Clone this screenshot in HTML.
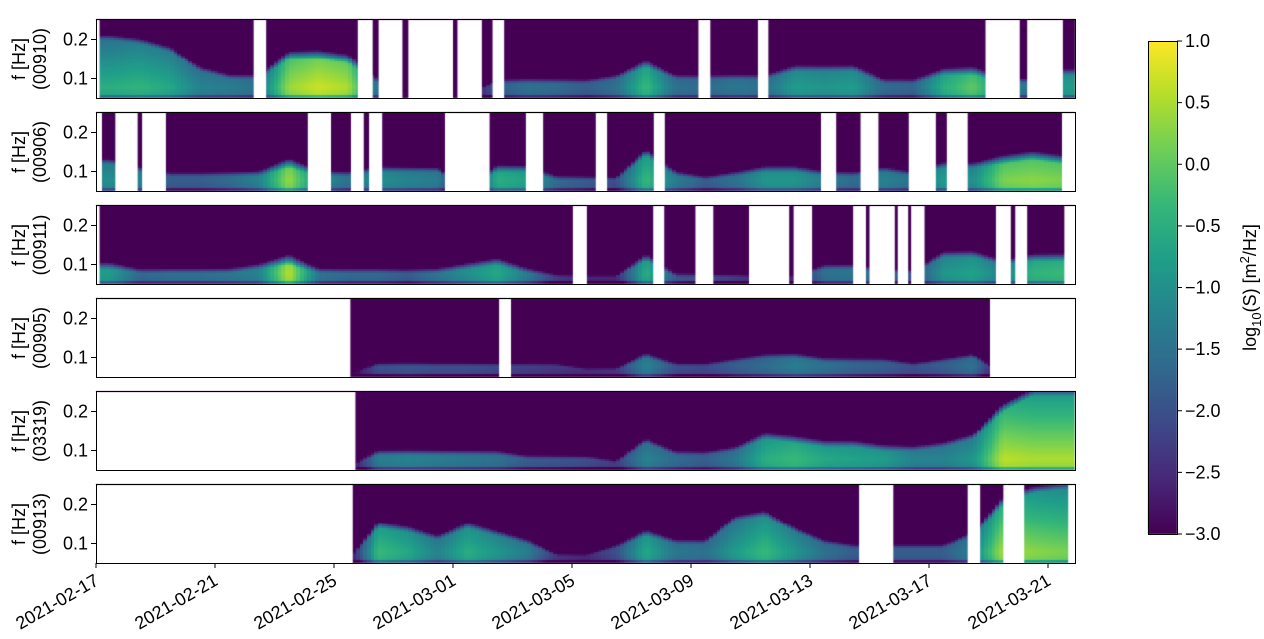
<!DOCTYPE html>
<html><head><meta charset="utf-8">
<style>
body{margin:0;background:#fff;font-family:"Liberation Sans",sans-serif;}
#wrap{position:relative;width:1264px;height:639px;overflow:hidden;}
canvas{position:absolute;left:0;top:0;}
svg{position:absolute;left:0;top:0;}
text{font-family:"Liberation Sans",sans-serif;font-size:18px;fill:#000;}
</style></head><body>
<div id="wrap">
<canvas id="cv" width="1264" height="639"></canvas>
<svg id="sv" width="1264" height="639"></svg>
</div>
<script>
const stations = ["00910","00906","00911","00905","03319","00913"];
const xTickLabels = ["2021-02-17","2021-02-21","2021-02-25","2021-03-01","2021-03-05","2021-03-09","2021-03-13","2021-03-17","2021-03-21"];
const xTickDays = [0,4,8,12,16,20,24,28,32];
const yTicks = [0.1,0.2];
const cbTicks = [1.0,0.5,0.0,-0.5,-1.0,-1.5,-2.0,-2.5,-3.0];
// daily peak log10(S) per station, day 0 = 2021-02-17
const amp00910 = [-0.5,-0.4,-0.6,-1.2,-1.3,-1.5,0.4,0.7,0.5,-1.5,-3,-3,-3,-1.8,-1.5,-1.6,-1.8,-1.5,-0.3,-1.5,-1.6,-1.4,-1.5,-0.8,-0.9,-0.8,-1.6,-1.7,-0.5,0.0,-1.0,-1.5,-0.8];
const top00910 = [0.2,0.19,0.17,0.12,0.1,0.1,0.15,0.15,0.14,0.09,0.06,0.06,0.06,0.09,0.09,0.09,0.09,0.1,0.13,0.1,0.1,0.1,0.1,0.12,0.12,0.12,0.09,0.09,0.11,0.11,0.09,0.09,0.11];
const amp00906 = [-1,-1.2,-1.8,-1.8,-1.6,-1.2,0.4,-1,-1.5,-1,-1.2,-1.3,-3,-0.5,-0.7,-1.6,-1.8,-2,-0.3,-1.3,-1.8,-1.5,-0.9,-0.9,-1.3,-1.6,-1.2,-1.5,-0.8,-1,0.2,0.3,0.2];
const top00906 = [0.12,0.1,0.09,0.09,0.09,0.09,0.11,0.09,0.09,0.1,0.1,0.1,0.06,0.1,0.1,0.08,0.08,0.08,0.14,0.09,0.08,0.09,0.1,0.1,0.09,0.09,0.1,0.09,0.11,0.11,0.12,0.13,0.12];
const amp00911 = [-0.8,-1.6,-1.5,-1.5,-1.4,-1.2,0.6,-1.4,-1.6,-1.6,-1.8,-1.4,-1.0,-0.6,-1.3,-2.2,-2.5,-2.5,-0.5,-1.8,-2,-2.2,-2.5,-2.5,-1.5,-1.4,-1.6,-2,-0.9,-0.7,-1.2,-0.4,-0.3];
const top00911 = [0.09,0.08,0.08,0.08,0.08,0.09,0.1,0.08,0.08,0.08,0.08,0.08,0.09,0.1,0.08,0.07,0.07,0.07,0.11,0.07,0.07,0.07,0.07,0.07,0.09,0.09,0.08,0.08,0.12,0.12,0.1,0.11,0.11];
const amp00905 = [-3,-3,-3,-3,-3,-3,-3,-3,-3,-2,-1.9,-2,-2,-2.1,-2.2,-2.3,-2.4,-2.3,-1.2,-2,-2.1,-1.8,-1.6,-1.3,-1.5,-1.7,-1.8,-2,-1.8,-1.5,-3,-3,-3];
const top00905 = [0.06,0.06,0.06,0.06,0.06,0.06,0.06,0.06,0.06,0.08,0.08,0.08,0.08,0.08,0.08,0.08,0.07,0.07,0.1,0.08,0.08,0.09,0.1,0.1,0.09,0.09,0.09,0.08,0.09,0.1,0.06,0.06,0.06];
const amp03319 = [-3,-3,-3,-3,-3,-3,-3,-3,-3,-1.3,-1.2,-1.3,-1.4,-1.5,-1.8,-1.9,-2,-2.2,-1.2,-1.6,-1.8,-1.4,-0.5,-0.3,-0.6,-0.7,-0.8,-1.2,-1.2,-0.9,0.6,0.5,0.5];
const top03319 = [0.06,0.06,0.06,0.06,0.06,0.06,0.06,0.06,0.06,0.09,0.09,0.09,0.09,0.09,0.08,0.08,0.08,0.07,0.12,0.09,0.09,0.1,0.13,0.12,0.11,0.11,0.1,0.1,0.11,0.13,0.2,0.24,0.24];
const amp00913 = [-3,-3,-3,-3,-3,-3,-3,-3,-3,-0.3,-0.6,-1.2,-0.5,-0.9,-1.3,-2.3,-2.5,-2,-0.6,-1.4,-1.5,-0.8,-0.3,-0.9,-1.5,-1.8,-1.8,-1.8,-1.8,-1.2,0.5,0.3,0.2];
const top00913 = [0.06,0.06,0.06,0.06,0.06,0.06,0.06,0.06,0.06,0.14,0.13,0.11,0.14,0.12,0.1,0.07,0.07,0.09,0.12,0.1,0.1,0.16,0.17,0.13,0.1,0.09,0.09,0.09,0.09,0.12,0.2,0.23,0.24];
// data gaps [startDay, endDay]
const gaps00910 = [[-1,0.12],[5.3,5.72],[8.8,9.3],[9.5,10.3],[10.5,12.0],[12.15,12.97],[13.33,13.72],[20.25,20.65],[22.25,22.6],[29.9,31.05],[31.3,32.5]];
const gaps00906 = [[-1,0.2],[0.65,1.4],[1.55,2.35],[7.12,7.9],[8.57,9.0],[9.18,9.62],[11.73,13.23],[14.45,15.03],[16.8,17.18],[18.75,19.12],[24.37,24.88],[25.7,26.3],[27.32,28.23],[28.6,29.3],[32.47,33]];
const gaps00911 = [[-1,0.12],[16.03,16.5],[18.73,19.1],[20.15,20.75],[21.95,23.3],[23.45,24.07],[25.45,25.88],[26.0,26.85],[26.95,27.3],[27.4,27.85],[30.25,30.75],[30.9,31.3],[32.55,33]];
const gaps00905 = [[-1,8.55],[13.55,13.95],[30.05,33]];
const gaps03319 = [[-1,8.72],[32.9,33]];
const gaps00913 = [[-1,8.63],[25.65,26.8],[29.3,29.72],[30.5,31.2],[32.68,33]];

const amps=[amp00910,amp00906,amp00911,amp00905,amp03319,amp00913];
const tops=[top00910,top00906,top00911,top00905,top03319,top00913];
const gapsAll=[gaps00910,gaps00906,gaps00911,gaps00905,gaps03319,gaps00913];

const X0=96, X1=1075, PX_PER_DAY=29.75;
const panelTops=[20,113,206,299,392,485], PH=78;
const FMIN=0.05, FMAX=0.25;
const xScale=d=>X0+d*PX_PER_DAY;
const dEnd=(X1-X0)/PX_PER_DAY;
const yScale=(p,f)=>panelTops[p]+(FMAX-f)/(FMAX-FMIN)*PH;
const VIR=["#440154","#482878","#3e4989","#31688e","#26828e","#1f9e89","#35b779","#6ece58","#b5de2b","#fde725"];
function hex(h){return [1,3,5].map(i=>parseInt(h.substr(i,2),16));}
function viridis(v){let t=(v+3)/4;t=Math.max(0,Math.min(1,t));const s=t*(VIR.length-1);const i=Math.min(VIR.length-2,Math.floor(s));const r=s-i;const a=hex(VIR[i]),b=hex(VIR[i+1]);return `rgb(${a.map((c,k)=>Math.round(c+(b[k]-c)*r)).join(",")})`;}
function interp(arr,d){const x=d-0.5;const i=Math.max(0,Math.min(arr.length-1,Math.floor(x)));const j=Math.min(arr.length-1,i+1);const r=Math.max(0,Math.min(1,x-i));return arr[i]+(arr[j]-arr[i])*r;}

const cv=document.getElementById('cv');const ctx=cv.getContext('2d');
const DT=0.125, DF=0.005;
for(let p=0;p<6;p++){
  for(let d=0; d<dEnd; d+=DT){
    const a=interp(amps[p],d+DT/2), tp=interp(tops[p],d+DT/2);
    for(let f=FMIN; f<FMAX-1e-9; f+=DF){
      const fc=f+DF/2;
      let v=a-Math.abs(fc-0.08)*8;
      if(fc>tp) v-=(fc-tp)*120;
      if(fc<0.06) v-=0.8;
      v=Math.max(-3,v);
      ctx.fillStyle=viridis(v);
      const x=Math.floor(xScale(d)), y=Math.floor(yScale(p,f+DF));
      const x2=Math.min(X1,Math.ceil(xScale(d+DT))), y2=Math.ceil(yScale(p,f));
      ctx.fillRect(x,y,x2-x,y2-y);
    }
  }
  ctx.fillStyle="#fff";
  gapsAll[p].forEach(g=>{const a=Math.max(X0,xScale(g[0])),b=Math.min(X1,xScale(g[1]));if(b>a)ctx.fillRect(a,panelTops[p],b-a,PH);});
}
// colorbar
const CB={x:1148,y:41,w:29,h:493};
const grd=ctx.createLinearGradient(0,CB.y+CB.h,0,CB.y);
VIR.forEach((c,i)=>grd.addColorStop(i/(VIR.length-1),c));
ctx.fillStyle=grd;ctx.fillRect(CB.x,CB.y,CB.w,CB.h);

const NS="http://www.w3.org/2000/svg";const sv=document.getElementById('sv');
function el(t,at,txt){const e=document.createElementNS(NS,t);for(const k in at)e.setAttribute(k,at[k]);if(txt!==undefined)e.textContent=txt;sv.appendChild(e);return e;}
for(let p=0;p<6;p++){
  const fr=el('rect',{x:X0+0.5,y:panelTops[p]-0.5,width:X1-X0,height:PH+1,fill:'none',stroke:'#000','stroke-width':1});
  
  
  yTicks.forEach(t=>{const y=yScale(p,t);
    const tk=el('line',{x1:X0-5,x2:X0,y1:y,y2:y,stroke:'#000'});
    
    
    const tl=el('text',{x:X0-8,y:y+6,'text-anchor':'end'},t.toFixed(1));
    
    
  });
  const cy=panelTops[p]+PH/2;
  const lab=el('text',{transform:`translate(25,${cy}) rotate(-90)`,'text-anchor':'middle'},'f [Hz]');
  
  
  const st=el('text',{transform:`translate(46,${cy}) rotate(-90)`,'text-anchor':'middle'},'('+stations[p]+')');
  
  
}
xTickDays.forEach((d,i)=>{const x=xScale(d);
  const tk=el('line',{x1:x,x2:x,y1:563,y2:568,stroke:'#000'});
  
  
  const tl=el('text',{transform:`translate(${x+4},${584}) rotate(-30)`,'text-anchor':'end'},xTickLabels[i]);
  
  
});
const cbf=el('rect',{x:CB.x+0.5,y:CB.y+0.5,width:CB.w,height:CB.h,fill:'none',stroke:'#000'});


cbTicks.forEach(t=>{const y=CB.y+(1-t)/4*CB.h;
  const tk=el('line',{x1:CB.x+CB.w,x2:CB.x+CB.w+5,y1:y,y2:y,stroke:'#000'});
  
  
  const tl=el('text',{x:CB.x+CB.w+8,y:y+6},(t<0?'\u2212':'')+Math.abs(t).toFixed(1));
  
  
});
const cbt=el('text',{transform:`translate(1256,${CB.y+CB.h/2}) rotate(-90)`,'text-anchor':'middle'});


cbt.innerHTML='log<tspan dy="5" font-size="13">10</tspan><tspan dy="-5">(S) [m</tspan><tspan dy="-7" font-size="13">2</tspan><tspan dy="7">/Hz]</tspan>';
</script>
</body></html>
